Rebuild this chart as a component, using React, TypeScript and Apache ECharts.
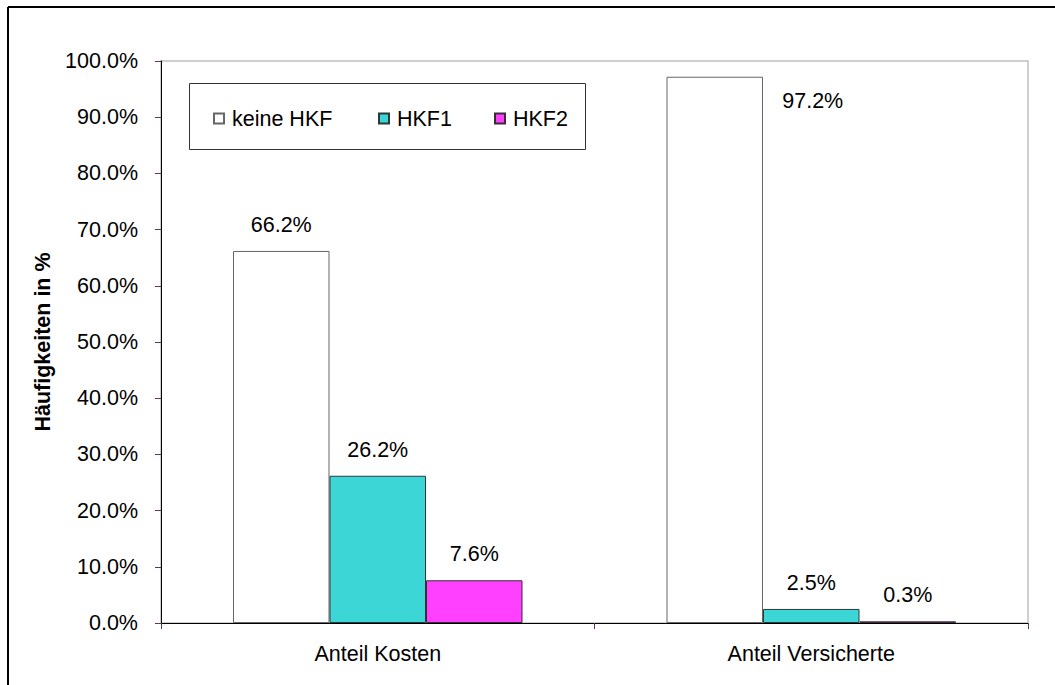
import React, { useEffect, useRef } from "react";
import * as echarts from "echarts";

const categories = ["Anteil Kosten", "Anteil Versicherte"];
const seriesNames = ["keine HKF", "HKF1", "HKF2"];
const keineHKF = [66.2, 97.2];
const hkf1 = [26.2, 2.5];
const hkf2 = [7.6, 0.3];
const yMin = 0;
const yMax = 100;
const yStep = 10;

const FONT = "'Liberation Sans', Arial, sans-serif";
const FS = 21.5;

export default function App() {
  const ref = useRef<HTMLDivElement>(null);
  useEffect(() => {
    if (!ref.current) return;
    const chart = echarts.init(ref.current, undefined, { renderer: "svg" });
    const pct = (v: number) => v.toFixed(1) + "%";
    const labelBase = {
      show: true,
      position: "top",
      distance: 15,
      color: "#000",
      fontFamily: FONT,
      fontSize: FS,
      formatter: (p: any) => pct(p.value),
    };
    const colors = ["#ffffff", "#3dd6d6", "#ff40ff"];
    const borders = ["#666666", "#2a3a3a", "#3a2a3a"];
    const values = [keineHKF, hkf1, hkf2];
    const legendX = [213, 378, 494];

    const option: any = {
      animation: false,
      backgroundColor: "#fff",
      textStyle: { fontFamily: FONT },
      grid: {
        left: 161,
        top: 61,
        right: 27,
        bottom: 62,
        show: true,
        borderColor: "#c0c0c0",
        borderWidth: 1.5,
        backgroundColor: "transparent",
      },
      graphic: [
        {
          type: "line",
          z: -10,
          shape: { x1: 8, y1: 7, x2: 1055, y2: 7 },
          style: { stroke: "#000", lineWidth: 2 },
        },
        {
          type: "line",
          z: -10,
          shape: { x1: 8, y1: 7, x2: 8, y2: 685 },
          style: { stroke: "#000", lineWidth: 2 },
        },
        {
          type: "rect",
          z: 1,
          shape: { x: 189.5, y: 83.5, width: 396, height: 66 },
          style: { fill: "#fff", stroke: "#333", lineWidth: 1 },
        },
      ],
      legend: seriesNames.map((n, i) => ({
        data: [n],
        left: legendX[i],
        top: 107.5,
        padding: 0,
        itemWidth: 10,
        itemHeight: 10,
        icon: "rect",
        z: 5,
        textStyle: {
          fontFamily: FONT,
          fontSize: FS,
          color: "#000",
          padding: [0, 0, 0, 3],
        },
      })),
      xAxis: {
        type: "category",
        data: categories,
        axisLine: { show: true, lineStyle: { color: "#000", width: 1 } },
        axisTick: {
          show: true,
          alignWithLabel: false,
          inside: false,
          length: 6,
          lineStyle: { color: "#5a3a5a" },
        },
        axisLabel: {
          color: "#000",
          fontFamily: FONT,
          fontSize: FS,
          margin: 20,
        },
        splitLine: { show: false },
      },
      yAxis: {
        type: "value",
        min: yMin,
        max: yMax,
        interval: yStep,
        name: "Häufigkeiten in %",
        nameLocation: "middle",
        nameRotate: 90,
        nameGap: 104,
        nameTextStyle: {
          fontFamily: FONT,
          fontSize: FS,
          fontWeight: "bold",
          color: "#000",
        },
        axisLine: { show: true, lineStyle: { color: "#000", width: 1 } },
        axisTick: {
          show: true,
          inside: false,
          length: 6,
          lineStyle: { color: "#5a3a5a" },
        },
        axisLabel: {
          color: "#000",
          fontFamily: FONT,
          fontSize: FS,
          margin: 23,
          formatter: (v: number) => pct(v),
        },
        splitLine: { show: false },
      },
      series: seriesNames.map((n, si) => ({
        name: n,
        type: "bar",
        barWidth: 96.5,
        barGap: "0%",
        itemStyle: {
          color: colors[si],
          borderColor: borders[si],
          borderWidth: 1,
        },
        label: labelBase,
        data: values[si].map((v, i) =>
          si === 0 && i === 1
            ? { value: v, label: { offset: [98, 50.5] } }
            : v
        ),
      })),
    };
    chart.setOption(option);
    return () => chart.dispose();
  }, []);
  return (
    <div
      ref={ref}
      style={{
        position: "absolute",
        left: 0,
        top: 0,
        width: 1055,
        height: 685,
        overflow: "hidden",
      }}
    />
  );
}
